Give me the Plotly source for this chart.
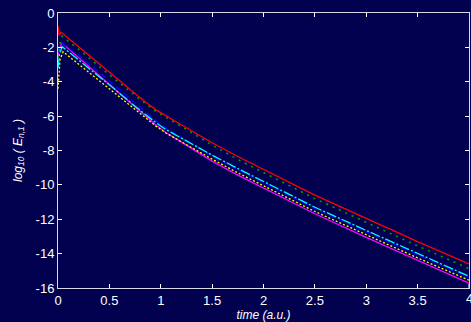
import plotly.graph_objects as go

# time grids
t_red = [0, 0.01, 0.03, 0.25, 0.5, 0.75, 0.85, 0.95, 1.05, 1.15, 1.3, 1.5, 1.75, 2.0, 2.5, 3.0, 3.5, 4.0]
t_main = [0, 0.015, 0.04, 0.25, 0.5, 0.75, 0.85, 0.95, 1.05, 1.15, 1.3, 1.5, 1.75, 2.0, 2.5, 3.0, 3.5, 4.0]
t_yel = [0, 0.02, 0.05, 0.25, 0.5, 0.75, 0.85, 0.95, 1.05, 1.15, 1.3, 1.5, 1.75, 2.0, 2.5, 3.0, 3.5, 4.0]

red = [-0.75, -1.3, -1.12, -2.2, -3.45, -4.7, -5.18, -5.62, -6.0, -6.33, -6.85, -7.55, -8.35, -9.1, -10.6, -11.95, -13.3, -14.6]
green = [-2.6, -1.9, -1.35, -2.35, -3.6, -4.8, -5.27, -5.7, -6.08, -6.42, -6.95, -7.68, -8.52, -9.28, -10.8, -12.18, -13.55, -14.87]
blue = [-2.3, -1.95, -1.75, -2.7, -3.95, -5.25, -5.75, -6.25, -6.7, -7.07, -7.6, -8.32, -9.12, -9.88, -11.38, -12.73, -14.08, -15.4]
cyan = [-3.2, -2.4, -1.96, -2.95, -4.18, -5.42, -5.9, -6.37, -6.78, -7.12, -7.62, -8.27, -9.05, -9.8, -11.3, -12.65, -14.0, -15.32]
magenta = [-2.6, -2.0, -1.76, -2.85, -4.2, -5.5, -6.0, -6.5, -6.95, -7.33, -7.88, -8.62, -9.43, -10.18, -11.68, -13.05, -14.4, -15.72]
yellow = [-4.4, -2.7, -2.25, -3.2, -4.4, -5.62, -6.1, -6.57, -6.98, -7.33, -7.83, -8.5, -9.3, -10.05, -11.55, -12.9, -14.25, -15.55]

x_ticks = [0, 0.5, 1, 1.5, 2, 2.5, 3, 3.5, 4]
x_ticklabels = ["0", "0.5", "1", "1.5", "2", "2.5", "3", "3.5", "4"]
y_ticks = [0, -2, -4, -6, -8, -10, -12, -14, -16]
y_ticklabels = ["0", "-2", "-4", "-6", "-8", "-10", "-12", "-14", "-16"]

FONT = "Liberation Sans, Arial, sans-serif"
bg = "#010150"
fig = go.Figure()
fig.add_trace(go.Scatter(x=t_main, y=magenta, mode="lines", line=dict(color="#ff00ff", width=1.3)))
fig.add_trace(go.Scatter(x=t_yel, y=yellow, mode="lines", line=dict(color="#ffff00", width=1.3, dash="2px,2px")))
fig.add_trace(go.Scatter(x=t_main, y=blue, mode="lines", line=dict(color="#0000ff", width=1.5, dash="6px,4px")))
fig.add_trace(go.Scatter(x=t_main, y=cyan, mode="lines", line=dict(color="#00ffff", width=1.3, dash="10px,2px,2px,2px")))
fig.add_trace(go.Scatter(x=t_main, y=green, mode="lines", line=dict(color="#00a000", width=1.6, dash="2px,5px")))
fig.add_trace(go.Scatter(x=t_red, y=red, mode="lines", line=dict(color="#ff0000", width=1.3)))

axis_common = dict(
    showgrid=False, zeroline=False, showline=True, linecolor="#d8d8e8", linewidth=1,
    mirror="ticks", ticks="inside", ticklen=4, tickcolor="#ffffff",
    tickfont=dict(family=FONT, size=13, color="#ffffff"),
)
fig.update_layout(
    width=471, height=322,
    margin=dict(l=58, r=2, t=13, b=34),
    paper_bgcolor=bg, plot_bgcolor=bg,
    showlegend=False,
    xaxis=dict(range=[0, 4], tickvals=x_ticks[:-1], ticktext=x_ticklabels[:-1],
               title=dict(text="<i>time (a.u.)</i>", standoff=2,
                          font=dict(family=FONT, size=12, color="#ffffff")),
               **axis_common),
    yaxis=dict(range=[-16, 0], tickvals=y_ticks, ticktext=y_ticklabels,
               title=dict(text="<i>log<sub>10</sub> ( E<sub>n,1</sub> )</i>", standoff=10,
                          font=dict(family=FONT, size=12, color="#ffffff")),
               **axis_common),
)
# last x tick label (at the right edge, partly outside the window)
fig.add_annotation(x=x_ticks[-1], y=0, xref="x", yref="paper", yanchor="top", yshift=-1,
                   text=x_ticklabels[-1], showarrow=False,
                   font=dict(family=FONT, size=13, color="#ffffff"))
fig.add_shape(type="line", xref="x", yref="paper", x0=x_ticks[-1], x1=x_ticks[-1], y0=0, y1=0.015,
              line=dict(color="#ffffff", width=1))
fig.write_html("out.html")
